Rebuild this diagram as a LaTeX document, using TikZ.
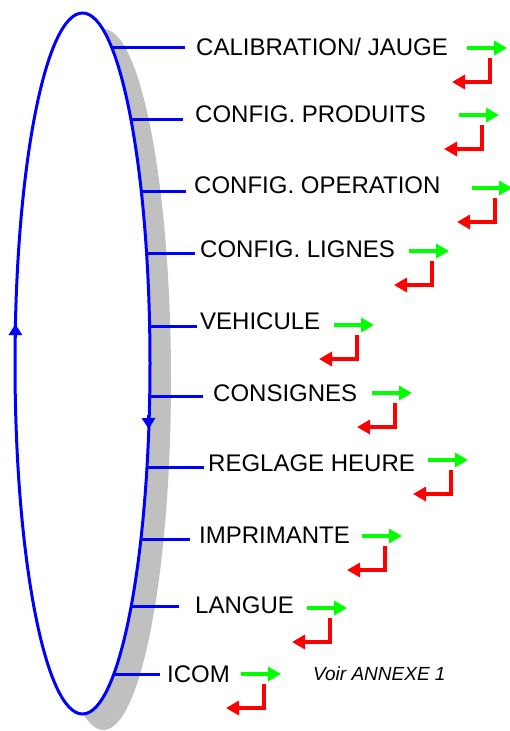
\documentclass[tikz,border=0pt]{standalone}
\usepackage{fontspec}
\setmainfont{Liberation Sans}
\usetikzlibrary{arrows.meta}
\definecolor{anneau}{RGB}{0,0,255}
\definecolor{suite}{RGB}{0,255,0}
\definecolor{retour}{RGB}{255,0,0}
\definecolor{ombre}{RGB}{192,192,192}

\begin{document}
\begin{tikzpicture}[x=1pt,y=-1pt,
  branch/.style={anneau,line width=3pt},
  item/.style={anchor=base west,inner sep=0pt,font=\fontsize{24}{28}\selectfont},
  go/.style={suite,line width=3.5pt,-{Triangle[length=13pt,width=14pt]}},
  back/.style={retour,line width=3.5pt,-{Triangle[length=13pt,width=14pt]}}]
  \useasboundingbox (0,0) rectangle (510,731);
  % ombre puis anneau des menus
  \fill[ombre] (103.5,379.5) ellipse [x radius=67.5pt, y radius=350.5pt];
  \draw[branch,fill=white] (82.5,363.5) ellipse [x radius=67.5pt, y radius=350.5pt];
  % sens de parcours
  \draw[branch,-{Triangle[length=11pt,width=13pt]}] (15.4,338) -- (15.4,324);
  \draw[branch,-{Triangle[length=11pt,width=13pt]}] (148.5,415) -- (148.8,429);
  % menus: n / y ligne / fin ligne / x texte / y texte / x fleche / y fleche / texte
  \foreach \i/\yl/\xb/\tx/\ty/\gx/\gy/\txt in {
      1/47/185/196/47/467/48/{CALIBRATION/ JAUGE},
      2/119/183/195/114/459/115/{CONFIG. PRODUITS},
      3/191/186/194/185/472/188/{CONFIG. OPERATION},
      4/253/195/200/249/409/251/{CONFIG. LIGNES},
      5/326/197/200/321/334/325/{VEHICULE},
      6/396/203/213/393/372/393/{CONSIGNES},
      7/467/204/208/463/428/460/{REGLAGE HEURE},
      8/539/190/199/535/362/536/{IMPRIMANTE},
      9/606/179/195/605/307/608/{LANGUE},
      10/674/160/167/674/241/674/{ICOM}} {
    \pgfmathsetmacro\ex{82.5+67.5*sqrt(1-((\yl-363.5)/350.5)^2)}
    \coordinate (e\i) at (\ex,\yl);
    \coordinate (b\i) at (\xb,\yl);
    \node[item] (t\i) at (\tx,{\ty+8.6}) {\txt};
    \coordinate (g\i) at (\gx,\gy);
    \coordinate (h\i) at ({\gx+40},\gy);
    \coordinate (r\i) at ({\gx+23},{\gy+10});
    \coordinate (s\i) at ({\gx-15},{\gy+34});
    \draw[branch] (e\i) -- (b\i);
    \draw[go] (g\i) -- (h\i);
    \draw[back] (r\i) |- (s\i);
  }
  \node[anchor=base west,inner sep=0pt,font=\itshape\fontsize{19}{22}\selectfont]
    (annexe) at (313,680.8) {Voir ANNEXE 1};
\end{tikzpicture}
\end{document}
